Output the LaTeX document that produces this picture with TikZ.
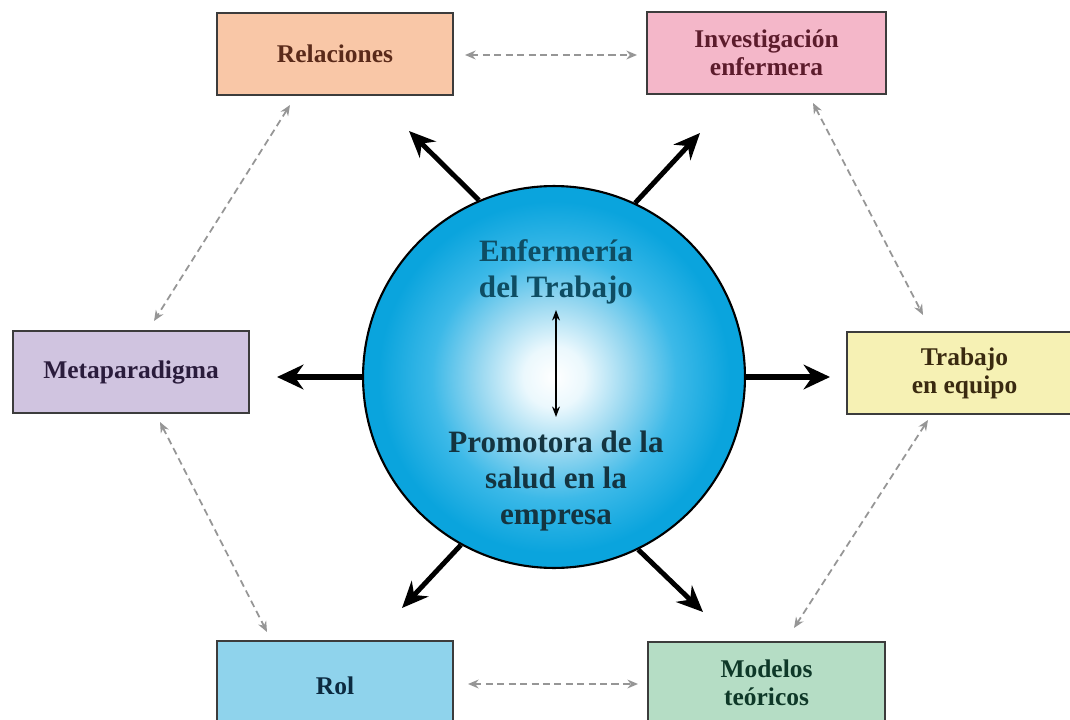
\documentclass[tikz,border=0pt]{standalone}
\usepackage{fontspec}
\setmainfont{Liberation Serif}
\usetikzlibrary{arrows.meta}
\definecolor{cy}{RGB}{10,164,221}
\definecolor{cyl}{RGB}{150,215,240}
\definecolor{cym}{RGB}{60,185,232}
\definecolor{cyw}{RGB}{235,248,253}
\definecolor{boxline}{RGB}{60,60,60}
\definecolor{dashc}{RGB}{150,150,150}
\definecolor{relf}{RGB}{249,199,167}
\definecolor{relt}{RGB}{90,42,26}
\definecolor{invf}{RGB}{244,183,201}
\definecolor{invt}{RGB}{92,28,44}
\definecolor{metf}{RGB}{208,196,224}
\definecolor{mett}{RGB}{42,28,60}
\definecolor{traf}{RGB}{246,241,180}
\definecolor{trat}{RGB}{58,42,16}
\definecolor{rolf}{RGB}{143,211,236}
\definecolor{rolt}{RGB}{12,42,64}
\definecolor{modf}{RGB}{181,221,197}
\definecolor{modt}{RGB}{14,56,40}
\definecolor{ctop}{RGB}{14,77,99}
\definecolor{cbot}{RGB}{20,52,64}
\pgfdeclareradialshading{glow}{\pgfpoint{0bp}{0bp}}{color(0bp)=(white); color(4bp)=(cyw); color(10bp)=(cyl); color(16bp)=(cym); color(23bp)=(cy); color(50bp)=(cy)}
\tikzset{
  infobox/.style={draw=boxline, line width=0.9pt, minimum width=4.72cm, minimum height=1.64cm, inner sep=0pt, align=center, font=\bfseries\fontsize{14.5}{16}\selectfont},
  ctext/.style={align=center, font=\bfseries\fontsize{17.7}{20.6}\selectfont},
  bigarrow/.style={line width=2.8pt, -{Stealth[length=15pt,width=13pt]}},
  hugearrow/.style={line width=3.8pt, -{Stealth[length=15pt,width=14pt]}},
  dasharrow/.style={draw=dashc, line width=1pt, dash pattern=on 4pt off 2.5pt, {Stealth[length=6pt,width=5pt]}-{Stealth[length=6pt,width=5pt]}},
  innerarrow/.style={line width=0.9pt, {Stealth[length=6pt,width=4.5pt]}-{Stealth[length=6pt,width=4.5pt]}}
}
\begin{document}
\begin{tikzpicture}[x=0.02cm, y=-0.02cm]
\clip (0,0) rectangle (1070,719);
\fill[white] (0,0) rectangle (1070,719);

% boxes
\node[infobox, fill=relf, text=relt] (rel) at (335,54) {Relaciones};
\node[infobox, fill=invf, text=invt, minimum width=4.78cm] (inv) at (766.5,53) {Investigación\\enfermera};
\node[infobox, fill=metf, text=mett] (met) at (131,372) {Metaparadigma};
\node[infobox, fill=traf, text=trat, minimum width=4.7cm] (tra) at (964.5,373) {Trabajo\\en equipo};
\node[infobox, fill=rolf, text=rolt, minimum height=1.8cm] (rol) at (335,686) {Rol};
\node[infobox, fill=modf, text=modt, minimum width=4.74cm] (mod) at (766.5,683) {Modelos\\teóricos};

% circle
\node[circle, draw=black, line width=1.2pt, minimum size=7.64cm, inner sep=0pt, shading=glow] (c) at (554,377) {};
\node[ctext, text=ctop] (t1) at (556,272) {Enfermería\\del Trabajo};
\node[ctext, text=cbot] (t2) at (556,481) {Promotora de la\\salud en la\\empresa};
\coordinate (ia) at (556,310);
\coordinate (ib) at (556,417);
\draw[innerarrow] (ia) -- (ib);

% bold arrows
\coordinate (tnw) at (409,131);
\coordinate (tne) at (700,133);
\coordinate (tsw) at (402,608);
\coordinate (tse) at (703,612);
\coordinate (tw) at (277,377);
\coordinate (te) at (830,377);
\draw[bigarrow] (c.113.5) -- (tnw);
\draw[bigarrow] (c.65.2) -- (tne);
\draw[bigarrow] (c.241.8) -- (tsw);
\draw[bigarrow] (c.296.3) -- (tse);
\draw[hugearrow] (c.west) -- (tw);
\draw[hugearrow] (c.east) -- (te);

% dashed connectors
\coordinate (a1) at (465,55);  \coordinate (a2) at (637,55);
\coordinate (b1) at (813,103); \coordinate (b2) at (923,315);
\coordinate (d1) at (928,420); \coordinate (d2) at (794,628);
\coordinate (e1) at (468,684); \coordinate (e2) at (638,684);
\coordinate (f1) at (160,422); \coordinate (f2) at (267,632);
\coordinate (g1) at (290,105); \coordinate (g2) at (154,321);
\draw[dasharrow] (a1) -- (a2);
\draw[dasharrow] (b1) -- (b2);
\draw[dasharrow] (d1) -- (d2);
\draw[dasharrow] (e1) -- (e2);
\draw[dasharrow] (f1) -- (f2);
\draw[dasharrow] (g1) -- (g2);
\end{tikzpicture}
\end{document}
